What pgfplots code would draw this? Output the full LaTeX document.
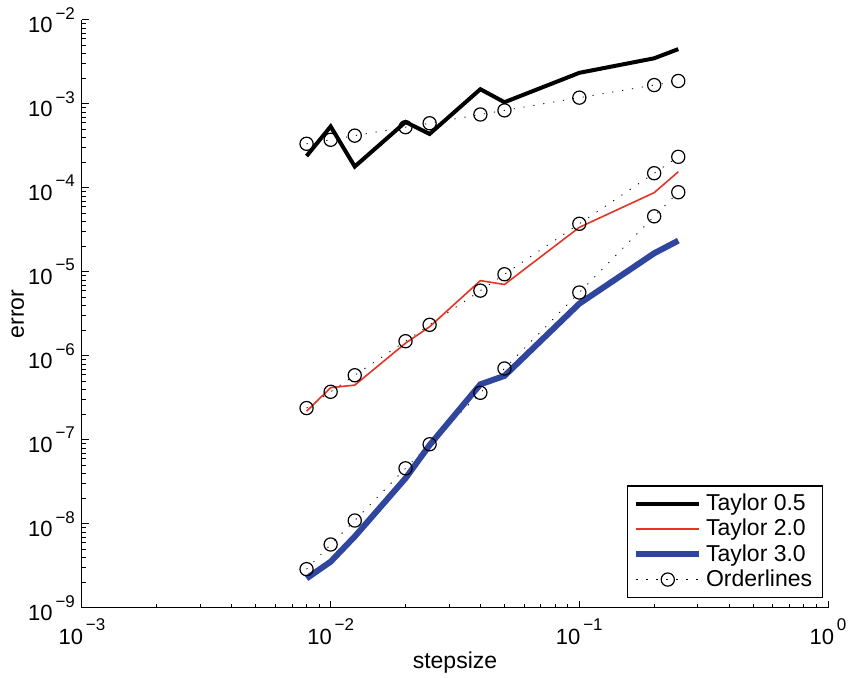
\documentclass[border=0pt]{standalone}
\usepackage{fontspec}
\setmainfont{Liberation Sans}
\usepackage{pgfplots}
\pgfplotsset{compat=1.18}
\definecolor{tred}{RGB}{228,52,38}
\definecolor{tblue}{RGB}{48,70,158}
\newcommand{\ex}[1]{10\raisebox{0.62em}{\fontsize{8.5}{9}\selectfont\,#1}}
\pgfplotsset{
  orderline/.style={black, line width=0.4pt, dash pattern=on 0.6pt off 4.4pt,
    mark=o, mark size=3.3pt, mark options={solid, line width=0.6pt}},
}
\begin{document}
\begin{tikzpicture}
\begin{axis}[
  at={(0,0)}, anchor=south west,
  scale only axis, width=373pt, height=294pt,
  xmode=log, ymode=log,
  xmin=1e-3, xmax=1, ymin=1e-9, ymax=1e-2,
  axis x line*=bottom, axis y line*=left,
  axis line style={line width=0.5pt},
  tick align=inside,
  major tick length=3.5pt, minor tick length=2pt,
  tick style={black, line width=0.5pt},
  xtick={1e-3,1e-2,1e-1,1},
  xticklabels={\ex{−3},\ex{−2},\ex{−1},\ex{0}},
  ytick={1e-9,1e-8,1e-7,1e-6,1e-5,1e-4,1e-3,1e-2},
  yticklabels={\ex{−9},\ex{−8},\ex{−7},\ex{−6},\ex{−5},\ex{−4},\ex{−3},\ex{−2}},
  ticklabel style={font=\fontsize{11}{13}\selectfont},
  xticklabel style={anchor=north, yshift=-2pt},
  xlabel={stepsize}, ylabel={error},
  every axis x label/.style={at={(axis description cs:0.5,-0.092)}, anchor=center,
    font=\fontsize{11.5}{13}\selectfont},
  every axis y label/.style={at={(axis description cs:-0.086,0.5)}, anchor=center, rotate=90,
    font=\fontsize{11.5}{13}\selectfont},
  legend style={at={(rel axis cs:0.993,0.017)}, anchor=south east,
    draw=black, line width=0.6pt, font=\fontsize{11.5}{13}\selectfont,
    row sep=-1.2pt, inner xsep=3pt, inner ysep=2pt},
  legend cell align=left,
  legend image code/.code={\draw[mark repeat=2, mark phase=2]
    plot coordinates {(0cm,0cm) (0.55cm,0cm) (1.1cm,0cm)};},
]
% order lines (drawn first, lines go on top)
\addplot[orderline, forget plot] coordinates {
  (0.008,3.36e-4) (0.01,3.75e-4) (0.0125,4.2e-4) (0.02,5.3e-4) (0.025,5.9e-4)
  (0.04,7.5e-4) (0.05,8.4e-4) (0.1,1.19e-3) (0.2,1.68e-3) (0.25,1.88e-3)};
\addplot[orderline, forget plot] coordinates {
  (0.008,2.4e-7) (0.01,3.75e-7) (0.0125,5.9e-7) (0.02,1.5e-6) (0.025,2.35e-6)
  (0.04,6.0e-6) (0.05,9.4e-6) (0.1,3.75e-5) (0.2,1.5e-4) (0.25,2.35e-4)};
\addplot[orderline, forget plot] coordinates {
  (0.008,2.9e-9) (0.01,5.7e-9) (0.0125,1.1e-8) (0.02,4.6e-8) (0.025,8.9e-8)
  (0.04,3.65e-7) (0.05,7.1e-7) (0.1,5.7e-6) (0.2,4.6e-5) (0.25,8.9e-5)};

\addplot[black, line width=2pt, line join=miter, no markers] coordinates {
  (0.008,2.4e-4) (0.01,5.4e-4) (0.0125,1.8e-4) (0.02,6.1e-4) (0.025,4.4e-4)
  (0.04,1.5e-3) (0.05,1.05e-3) (0.1,2.35e-3) (0.2,3.5e-3) (0.25,4.5e-3)};
\addlegendentry{Taylor 0.5}
\addplot[tred, line width=0.8pt, no markers] coordinates {
  (0.008,2.2e-7) (0.01,4.2e-7) (0.0125,4.5e-7) (0.02,1.42e-6) (0.025,2.23e-6)
  (0.04,7.9e-6) (0.05,7.1e-6) (0.1,3.4e-5) (0.2,8.8e-5) (0.25,1.56e-4)};
\addlegendentry{Taylor 2.0}
\addplot[tblue, line width=3pt, no markers] coordinates {
  (0.008,2.25e-9) (0.01,3.56e-9) (0.0125,7.1e-9) (0.02,3.5e-8) (0.025,8.7e-8)
  (0.04,4.6e-7) (0.05,5.8e-7) (0.1,4.2e-6) (0.2,1.67e-5) (0.25,2.36e-5)};
\addlegendentry{Taylor 3.0}
\addlegendimage{orderline}
\addlegendentry{Orderlines}
\end{axis}
\pgfresetboundingbox
\useasboundingbox (-41pt,-35pt) rectangle (383pt,304pt);
\end{tikzpicture}
\end{document}
